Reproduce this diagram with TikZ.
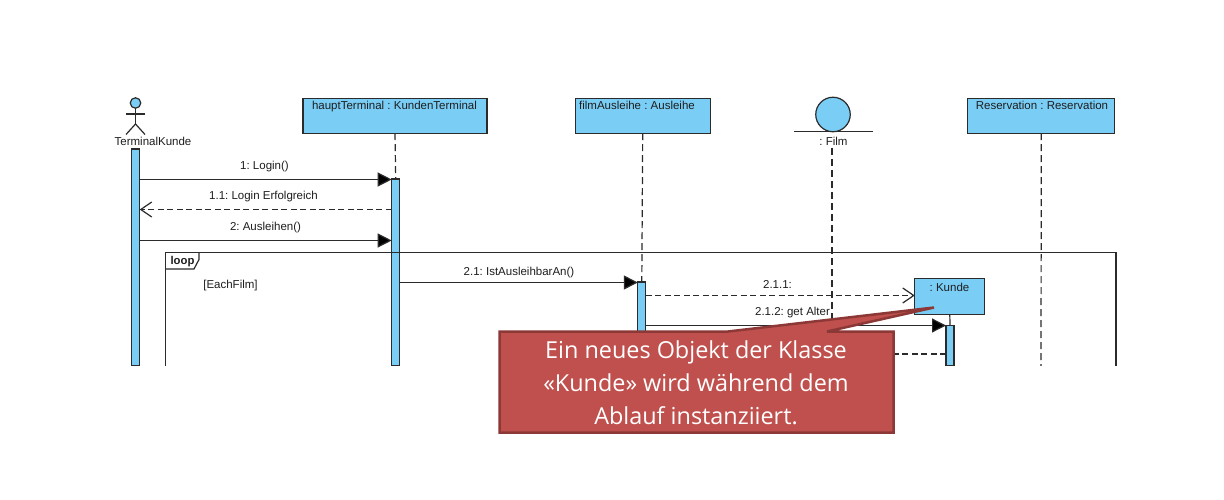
\documentclass[tikz,border=0pt]{standalone}
\usepackage{fontspec}
\setmainfont{Liberation Sans}
\newfontfamily\calloutfont{Open Sans}
\usetikzlibrary{arrows.meta}
\definecolor{umlblue}{HTML}{7ACEF6}
\definecolor{umlline}{HTML}{2B2B2B}
\definecolor{umltext}{HTML}{1E1E1E}
\definecolor{callfill}{HTML}{C0504D}
\definecolor{callline}{HTML}{8C3836}
\tikzset{
  x=1pt,y=-1pt,
  base/.style={line width=1.2pt,draw=umlline},
  objbox/.style={base,fill=umlblue,rectangle,inner sep=0pt,outer sep=0pt},
  actbar/.style={objbox,minimum width=8pt},
  lifeline/.style={base,dash pattern=on 7pt off 4pt},
  lbl/.style={text=umltext,font=\fontsize{11.5}{13}\selectfont\frenchspacing,inner sep=0pt,anchor=base},
  sync/.style={base,-{Triangle[length=14pt,width=14pt,fill=black]}},
  reply/.style={base,dash pattern=on 6pt off 3.5pt,-{Straight Barb[length=11pt,width=15pt,line width=1.2pt]}},
  frameline/.style={base},
  callouttext/.style={text=white,font=\calloutfont\fontsize{23.4}{33}\selectfont,inner sep=0pt,align=center},
}
\begin{document}
\begin{tikzpicture}
\useasboundingbox (0,0) rectangle (1224,500);
\fill[white] (0,0) rectangle (1224,500);
% object boxes
\node[objbox,minimum width=184pt,minimum height=35pt] (haupt) at (395,115.7) {};
\node[objbox,minimum width=135pt,minimum height=35pt] (ausl) at (642.7,115.7) {};
\node[objbox,minimum width=147pt,minimum height=35pt] (res) at (1041.3,115.7) {};
\node[lbl] (hauptT) at (394.5,110) {hauptTerminal : KundenTerminal};
\node[lbl] (auslT) at (637,110) {filmAusleihe : Ausleihe};
\node[lbl] (resT) at (1042,110) {Reservation : Reservation};
% actor
\node[objbox,circle,minimum size=10.5pt] (head) at (135.5,103) {};
\coordinate (hip) at (135.5,124);
\coordinate (armL) at (126,114);
\coordinate (armR) at (145,114);
\coordinate (legL) at (126,134.5);
\coordinate (legR) at (145,134.5);
\draw[base] (head.south) -- (hip);
\draw[base] (armL) -- (armR);
\draw[base] (legL) -- (hip) -- (legR);
\node[lbl] (actorT) at (153,145.8) {TerminalKunde};
% film entity
\node[objbox,circle,minimum size=34.5pt] (film) at (833,114.5) {};
\coordinate (filmL) at (794,131.5);
\coordinate (filmR) at (873,131.5);
\draw[base] (filmL) -- (filmR);
\node[lbl] (filmT) at (833.5,145.5) {: Film};
% activations
\node[actbar,minimum height=217pt] (actA) at (135.7,257.5) {};
\node[actbar,minimum height=187pt] (actB) at (395.7,272.5) {};
\node[actbar,minimum height=84pt] (actC) at (641.8,324) {};
\node[actbar,minimum height=40.5pt] (actD) at (950,345.75) {};
% kunde box
\node[objbox,minimum width=70pt,minimum height=36pt] (kunde) at (949.8,296.5) {};
\node[lbl] (kundeT) at (949.5,291) {: Kunde};
% lifelines
\coordinate (lifeEndF) at (832,366);
\coordinate (lifeEndR) at (1041,366);
\coordinate (lifeStartF) at (832,148);
\draw[lifeline] (haupt.south) -- (actB.north);
\draw[lifeline] (ausl.south) -- (actC.north);
\draw[lifeline] (lifeStartF) -- (lifeEndF);
\draw[lifeline] (res.south) -- (lifeEndR);
\draw[base] (kunde.south) -- (actD.north);
% loop frame
\coordinate (frBL) at (165.5,366);
\coordinate (frTL) at (165.5,252.5);
\coordinate (frTR) at (1116,252.5);
\coordinate (frBR) at (1116,366);
\draw[frameline] (frBL) -- (frTL) -- (frTR) -- (frBR);
\coordinate (tagA) at (199,252.5);
\coordinate (tagB) at (199,259.5);
\coordinate (tagC) at (194,269);
\coordinate (tagD) at (165.5,269);
\draw[frameline] (tagA) -- (tagB) -- (tagC) -- (tagD);
\node[lbl,font=\fontsize{11.3}{13}\selectfont\bfseries] (loopT) at (182.5,264.7) {loop};
\node[lbl] (guard) at (230.5,288) {[EachFilm]};
% message levels
\coordinate (m1) at (0,179.5);
\coordinate (m2) at (0,209.5);
\coordinate (m3) at (0,240.5);
\coordinate (m4) at (0,282.5);
\coordinate (m5) at (0,295.5);
\coordinate (m6) at (0,325.5);
\coordinate (m7) at (0,354);
% messages
\draw[sync] (actA.east |- m1) -- (actB.west |- m1);
\draw[reply] (actB.west |- m2) -- (actA.east |- m2);
\draw[sync] (actA.east |- m3) -- (actB.west |- m3);
\draw[sync] (actB.east |- m4) -- (actC.west |- m4);
\draw[reply] (actC.east |- m5) -- (kunde.west |- m5);
\draw[sync] (actC.east |- m6) -- (actD.west |- m6);
\draw[base,dash pattern=on 6pt off 3.5pt] (actD.west |- m7) -- (actC.east |- m7);
\node[lbl] (l1) at (264.5,169.5) {1: Login()};
\node[lbl] (l2) at (263.5,199.5) {1.1: Login Erfolgreich};
\node[lbl] (l3) at (265.5,230.5) {2: Ausleihen()};
\node[lbl] (l4) at (519,275) {2.1: IstAusleihbarAn()};
\node[lbl] (l5) at (777.5,288) {2.1.1:};
\node[lbl] (l6) at (792.5,315.5) {2.1.2: get Alter};
% callout
\fill[white] (0,366) rectangle (1224,500);
\coordinate (cTL) at (499.5,331.5);
\coordinate (cP1) at (728,331.5);
\coordinate (cTip) at (934,307.5);
\coordinate (cP2) at (827,331.5);
\coordinate (cTR) at (893.5,331.5);
\coordinate (cBR) at (893.5,432.5);
\coordinate (cBL) at (499.5,432.5);
\draw[line width=2.5pt,draw=callline,fill=callfill,line join=miter,miter limit=3] (cTL) -- (cP1) -- (cTip) -- (cP2) -- (cTR) -- (cBR) -- (cBL) -- cycle;
\node[callouttext] (note) at (696,382.5) {Ein neues Objekt der Klasse\\«Kunde» wird während dem\\Ablauf instanziiert.};
\end{tikzpicture}
\end{document}
